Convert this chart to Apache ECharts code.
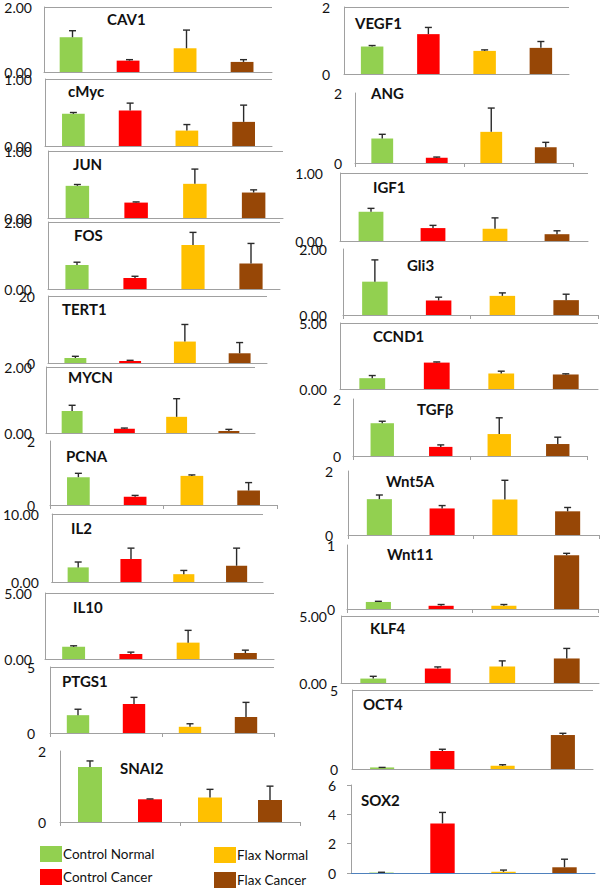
<!DOCTYPE html>
<html><head><meta charset="utf-8">
<script src="https://cdn.jsdelivr.net/npm/echarts@6/dist/echarts.min.js"></script>
<style>html,body{margin:0;padding:0;background:#fff}#c{width:600px;height:889px}</style>
</head><body><div id="c"></div>
<script>
// ---------- DATA ----------
const groups = ['Control Normal', 'Control Cancer', 'Flax Normal', 'Flax Cancer'];

const CAV1_mean = [1.07, 0.35, 0.73, 0.31];   const CAV1_sd = [0.20, 0.03, 0.56, 0.07];
const cMyc_mean = [0.48, 0.53, 0.23, 0.36];   const cMyc_sd = [0.02, 0.11, 0.09, 0.25];
const JUN_mean = [0.48, 0.23, 0.51, 0.38];    const JUN_sd = [0.02, 0.01, 0.22, 0.04];
const FOS_mean = [0.72, 0.33, 1.31, 0.76];    const FOS_sd = [0.08, 0.05, 0.38, 0.60];
const TERT1_mean = [1.5, 0.6, 6.4, 2.9];      const TERT1_sd = [0.5, 0.2, 5.1, 3.2];
const MYCN_mean = [0.67, 0.13, 0.49, 0.06];   const MYCN_sd = [0.17, 0.02, 0.55, 0.05];
const PCNA_mean = [0.87, 0.26, 0.91, 0.45];   const PCNA_sd = [0.12, 0.04, 0.03, 0.25];
const IL2_mean = [2.15, 3.39, 1.15, 2.39];    const IL2_sd = [0.79, 1.59, 0.55, 2.59];
const IL10_mean = [0.92, 0.37, 1.24, 0.45];   const IL10_sd = [0.08, 0.15, 0.93, 0.22];
const PTGS1_mean = [1.35, 2.20, 0.47, 1.22];  const PTGS1_sd = [0.45, 0.50, 0.23, 1.10];
const SNAI2_mean = [1.55, 0.64, 0.69, 0.62];  const SNAI2_sd = [0.17, 0.01, 0.23, 0.39];
const VEGF1_mean = [0.82, 1.19, 0.69, 0.78];  const VEGF1_sd = [0.03, 0.20, 0.03, 0.19];
const ANG_mean = [0.70, 0.15, 0.89, 0.45];    const ANG_sd = [0.12, 0.02, 0.68, 0.14];
const IGF1_mean = [0.43, 0.19, 0.18, 0.10];   const IGF1_sd = [0.05, 0.04, 0.16, 0.05];
const Gli3_mean = [1.01, 0.44, 0.58, 0.45];   const Gli3_sd = [0.66, 0.10, 0.09, 0.18];
const CCND1_mean = [0.82, 2.00, 1.17, 1.10];  const CCND1_sd = [0.20, 0.05, 0.18, 0.05];
const TGFb_mean = [1.15, 0.32, 0.77, 0.42];   const TGFb_sd = [0.07, 0.07, 0.57, 0.24];
const Wnt5A_mean = [1.12, 0.83, 1.11, 0.74];  const Wnt5A_sd = [0.13, 0.09, 0.60, 0.12];
const Wnt11_mean = [0.11, 0.05, 0.05, 0.84];  const Wnt11_sd = [0.01, 0.02, 0.02, 0.03];
const KLF4_mean = [0.33, 1.08, 1.23, 1.83];   const KLF4_sd = [0.17, 0.12, 0.42, 0.75];
const OCT4_mean = [0.10, 1.14, 0.20, 2.15];   const OCT4_sd = [0.00, 0.11, 0.07, 0.11];
const SOX2_mean = [0.03, 3.38, 0.08, 0.39];   const SOX2_sd = [0.02, 0.75, 0.12, 0.55];

const geneNames = ['CAV1','cMyc','JUN','FOS','TERT1','MYCN','PCNA','IL2','IL10','PTGS1','SNAI2',
                   'VEGF1','ANG','IGF1','Gli3','CCND1','TGFβ','Wnt5A','Wnt11','KLF4','OCT4','SOX2'];
const yMax      = [2, 1, 1, 2, 20, 2, 2, 10, 5, 5, 2,   2, 2, 1, 2, 5, 2, 2, 1, 5, 5, 6];
const yStep     = [2, 1, 1, 2, 20, 2, 2, 10, 5, 5, 2,   2, 2, 1, 2, 5, 2, 2, 1, 5, 5, 2];
const yDigits   = [2, 2, 2, 2, 0, 2, 0, 2, 2, 0, 0,     0, 0, 2, 2, 2, 0, 0, 0, 2, 0, 0];

const geneMeans = [CAV1_mean, cMyc_mean, JUN_mean, FOS_mean, TERT1_mean, MYCN_mean, PCNA_mean, IL2_mean, IL10_mean, PTGS1_mean, SNAI2_mean,
                   VEGF1_mean, ANG_mean, IGF1_mean, Gli3_mean, CCND1_mean, TGFb_mean, Wnt5A_mean, Wnt11_mean, KLF4_mean, OCT4_mean, SOX2_mean];
const geneSds   = [CAV1_sd, cMyc_sd, JUN_sd, FOS_sd, TERT1_sd, MYCN_sd, PCNA_sd, IL2_sd, IL10_sd, PTGS1_sd, SNAI2_sd,
                   VEGF1_sd, ANG_sd, IGF1_sd, Gli3_sd, CCND1_sd, TGFb_sd, Wnt5A_sd, Wnt11_sd, KLF4_sd, OCT4_sd, SOX2_sd];

// ---------- LAYOUT / STYLE ----------
const groupColors = ['#92D050', '#FF0000', '#FFC000', '#974706'];
// left, top, right, bottom, labelMargin, categoryTicks, topLine, titleX, titleY
const panelLayout = [
  [44, 5, 272, 72, 12, false, true, 107, 20],
  [45, 79, 272, 146, 13, false, true, 68, 92],
  [48, 151, 283, 218, 16, false, true, 73, 165],
  [48, 222, 280, 289, 16, false, true, 74, 236],
  [48, 296, 267, 363, 13, false, true, 62, 310],
  [46, 367, 255, 433, 14, false, true, 68, 378],
  [50, 441, 277, 505, 15, true, false, 66, 457],
  [43, 514, 263, 582, 13, false, true, 71, 529],
  [45, 593, 274, 659, 13, false, true, 73, 608],
  [50, 667, 274, 733, 15, true, true, 62, 682],
  [60, 751, 300, 822, 14, true, false, 120, 769],
  [344, 7, 569, 74, 14, false, true, 355, 24],
  [355, 93, 573, 163, 13, true, false, 371, 94],
  [340, 173, 588, 241, 17, false, true, 373, 188],
  [343, 249, 598, 315, 16, true, false, 407, 266],
  [340, 323, 598, 389, 13, false, true, 373, 337],
  [353, 399, 587, 456, 12, true, false, 417, 410],
  [348, 471, 599, 535, 15, true, false, 386, 482],
  [347, 545, 598, 609, 12, true, false, 387, 555],
  [341, 616, 599, 683, 14, false, true, 370, 629],
  [352, 690, 593, 769, 14, false, true, 363, 705],
  [351, 785, 595, 873, 15, false, false, 361, 801]
];
const FONT = 'Lato, "Open Sans", sans-serif';
const AXIS_GRAY = '#A0A0A0';

const grids = [], xAxes = [], yAxes = [], series = [], graphics = [];

function renderErr(params, api) {
  const i = api.value(0), m = api.value(1), s = api.value(2);
  const p0 = api.coord([i, m]);
  const p1 = api.coord([i, m + s]);
  const st = { stroke: '#2a2a2a', lineWidth: 1.4 };
  return { type: 'group', children: [
    { type: 'line', shape: { x1: p0[0], y1: p0[1], x2: p1[0], y2: p1[1] }, style: st },
    { type: 'line', shape: { x1: p1[0] - 3.5, y1: p1[1], x2: p1[0] + 3.5, y2: p1[1] }, style: st }
  ]};
}

geneNames.forEach((name, g) => {
  const L = panelLayout[g];
  const isSox = name === 'SOX2';
  grids.push({ left: L[0], top: L[1], width: L[2] - L[0], height: L[3] - L[1], containLabel: false });
  xAxes.push({
    type: 'category', gridIndex: g, data: groups, boundaryGap: true,
    axisLine: { show: true, lineStyle: { color: isSox ? '#4F81BD' : AXIS_GRAY, width: 1 } },
    axisTick: { show: L[5], length: 4, lineStyle: { color: AXIS_GRAY } },
    axisLabel: { show: false }, splitLine: { show: false }
  });
  const digits = yDigits[g];
  yAxes.push({
    type: 'value', gridIndex: g, min: 0, max: yMax[g], interval: yStep[g],
    axisLine: { show: true, lineStyle: { color: AXIS_GRAY, width: 1 } },
    axisTick: { show: isSox, length: 4, lineStyle: { color: AXIS_GRAY } },
    splitLine: { show: L[6], lineStyle: { color: AXIS_GRAY, width: 1 } },
    axisLabel: { margin: L[4], fontSize: 14, color: '#111', fontFamily: FONT,
                 formatter: v => v.toFixed(digits) }
  });
  series.push({
    type: 'bar', xAxisIndex: g, yAxisIndex: g, barWidth: '40%', silent: true,
    data: geneMeans[g].map((v, k) => ({ value: v, itemStyle: { color: groupColors[k] } }))
  });
  series.push({
    type: 'custom', xAxisIndex: g, yAxisIndex: g, silent: true, z: 5, clip: false,
    renderItem: renderErr, encode: { x: 0, y: 1 },
    data: geneMeans[g].map((v, k) => [k, v, geneSds[g][k]])
  });
  graphics.push({
    type: 'text', left: L[7], top: L[8] - 9,
    style: { text: name, font: 'bold 15px ' + FONT, fill: '#111' }
  });
});

// legend holder series (empty) so the legend shows the four groups
groups.forEach((gname, k) => {
  series.push({ type: 'bar', name: gname, xAxisIndex: 0, yAxisIndex: 0, data: [], itemStyle: { color: groupColors[k] } });
});
const legendPos = [[40, 846], [40, 869], [214, 847], [214, 872]];
const legendTextDy = [-3, -1, -6, 2];
const legends = groups.map((gname, k) => ({
  data: [gname], left: legendPos[k][0], top: legendPos[k][1], padding: 0,
  itemWidth: 22, itemHeight: 16, icon: 'rect', selectedMode: false,
  textStyle: { fontSize: 13.5, color: '#111', fontFamily: FONT, padding: [legendTextDy[k] < 0 ? 0 : legendTextDy[k], 0, legendTextDy[k] < 0 ? -legendTextDy[k] : 0, -4] }
}));

const chart = echarts.init(document.getElementById('c'), null, { renderer: 'svg', width: 600, height: 889 });
chart.setOption({
  animation: false,
  backgroundColor: '#fff',
  grid: grids, xAxis: xAxes, yAxis: yAxes, series: series,
  legend: legends, graphic: graphics
});
</script>
</body></html>
